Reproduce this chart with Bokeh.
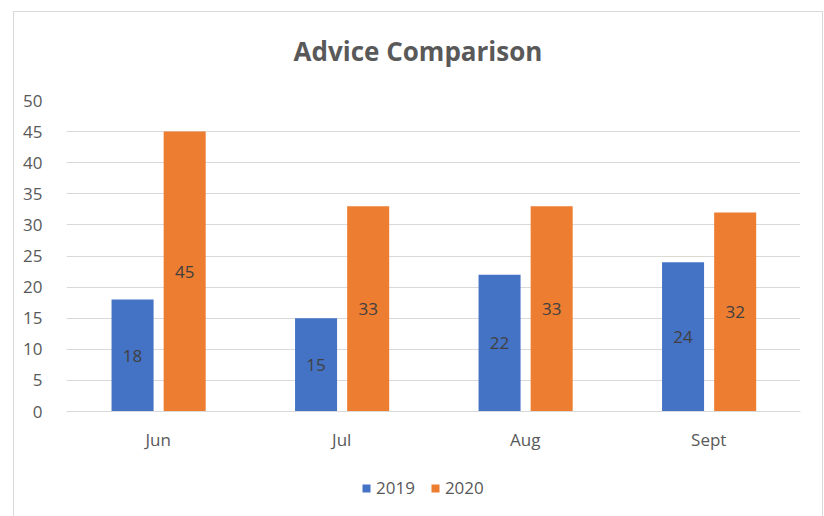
from bokeh.plotting import figure
from bokeh.layouts import column
from bokeh.models import ColumnDataSource, FactorRange, Range1d, Legend, LegendItem, LabelSet, Div, SingleIntervalTicker
from bokeh.core.properties import value
from bokeh.transform import dodge
from bokeh.embed import file_html
from bokeh.resources import INLINE

title_text = "Advice Comparison"
months = ["Jun", "Jul", "Aug", "Sept"]
v2019 = [18, 15, 22, 24]
v2020 = [45, 33, 33, 32]
series = ["2019", "2020"]
colors = ["#4472C4", "#ED7D31"]

FONT = "Open Sans"
GRAY = "#595959"

src = ColumnDataSource(dict(
    m=months, a=v2019, b=v2020,
    ah=[v / 2 for v in v2019], bh=[v / 2 for v in v2020],
    at=[str(v) for v in v2019], bt=[str(v) for v in v2020],
))

# title strip
title = Div(text=title_text, width=808, height=78, margin=0,
            styles={"font-family": "'Open Sans'", "font-size": "26px", "font-weight": "bold",
                    "color": GRAY, "text-align": "center", "line-height": "30px",
                    "padding-top": "24px", "box-sizing": "border-box",
                    "justify-content": "center"})

p = figure(width=808, height=375, output_backend="svg", toolbar_location=None,
           x_range=FactorRange(*months, range_padding=0), y_range=Range1d(0, 50),
           min_border_left=52, min_border_right=22, min_border_top=10, min_border_bottom=54)
p.outline_line_color = None

p.vbar(x=dodge("m", -0.14, range=p.x_range), top="a", width=0.229, source=src,
       fill_color=colors[0], line_color=None)
p.vbar(x=dodge("m", 0.144, range=p.x_range), top="b", width=0.229, source=src,
       fill_color=colors[1], line_color=None)

for xo, yc, tc in [(-0.14, "ah", "at"), (0.144, "bh", "bt")]:
    p.add_layout(LabelSet(x=dodge("m", xo, range=p.x_range), y=yc, text=tc, source=src,
                          text_align="center", text_baseline="middle",
                          text_font=value(FONT), text_font_size=value("17px"), text_color="#404040"))

p.yaxis.ticker = SingleIntervalTicker(interval=5)
p.yaxis.axis_line_color = None
p.yaxis.major_tick_line_color = None
p.yaxis.minor_tick_line_color = None
p.yaxis.major_label_standoff = 18
p.yaxis.major_label_text_font = FONT
p.yaxis.major_label_text_font_size = "17px"
p.yaxis.major_label_text_color = GRAY

p.xaxis.axis_line_color = "#d9d9d9"
p.xaxis.major_tick_line_color = None
p.xaxis.minor_tick_line_color = None
p.xaxis.major_label_standoff = 10
p.xaxis.major_label_text_font = FONT
p.xaxis.major_label_text_font_size = "17px"
p.xaxis.major_label_text_color = GRAY

p.xgrid.grid_line_color = None
p.ygrid.grid_line_color = "#d9d9d9"
p.ygrid.ticker = SingleIntervalTicker(interval=5)

# legend strip below the chart
lf = figure(width=808, height=51, output_backend="svg", toolbar_location=None,
            x_range=Range1d(0, 1), y_range=Range1d(0, 1),
            min_border=0, x_axis_location=None, y_axis_location=None)
lf.outline_line_color = None
lf.grid.visible = False
items = []
for s, c in zip(series, colors):
    r = lf.vbar(x=[0.5], top=[0], width=0.1, fill_color=c, line_color=None)
    items.append(LegendItem(label=s, renderers=[r]))
legend = Legend(items=items, orientation="horizontal", location=(295, 17),
                glyph_width=10, glyph_height=10, label_standoff=5, spacing=15,
                label_text_font=FONT, label_text_font_size="17px", label_text_color=GRAY,
                border_line_color=None, background_fill_alpha=0, padding=0, margin=0)
lf.add_layout(legend, "center")

layout = column(title, p, lf, spacing=0,
                styles={"margin-left": "13px", "margin-top": "11px", "border": "1px solid #d9d9d9"})

open("out.html", "w").write(file_html(layout, INLINE))
